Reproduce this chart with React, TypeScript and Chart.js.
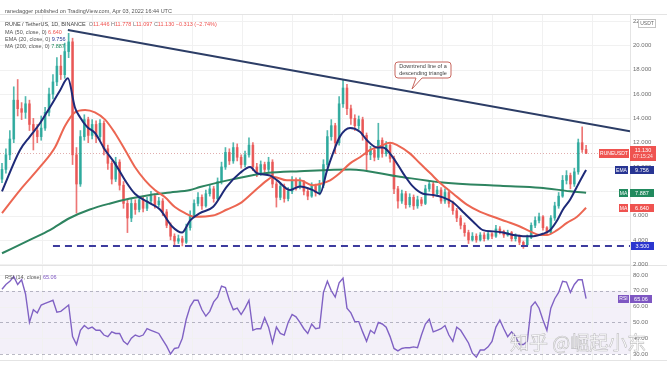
import React, { useEffect, useRef } from "react";
import { Chart, registerables } from "chart.js";

Chart.register(...registerables);

// ---------- DATA ----------
const opens = [
  9.0, 9.8, 11.0, 12.3, 15.5, 14.8, 14.5, 15.2, 13.5, 13.0,
  12.5, 13.2, 14.5, 16.0, 17.0, 18.3, 17.6, 19.5, 20.3, 11.0,
  8.6, 12.5, 13.9, 12.6, 13.5, 12.5, 13.6, 11.5, 10.3, 9.0,
  10.4, 8.5, 7.0, 5.8, 7.0, 6.5, 7.3, 6.6, 7.2, 7.6,
  6.9, 7.2, 6.3, 5.2, 4.3, 3.9, 4.1, 3.8, 5.0, 6.0,
  7.0, 7.5, 6.8, 7.8, 8.2, 7.4, 8.8, 10.0, 11.2, 10.5,
  11.6, 10.8, 10.2, 11.0, 11.8, 10.0, 9.5, 10.2, 9.8, 10.4,
  8.6, 7.5, 8.4, 7.4, 8.0, 8.9, 8.4, 8.8, 8.0, 7.6,
  8.4, 7.9, 8.5, 10.2, 12.5, 13.4, 12.0, 15.2, 16.5, 14.8,
  14.0, 13.4, 13.9, 12.6, 11.0, 11.4, 10.8, 12.2, 11.1, 11.8,
  10.7, 8.2, 7.2, 7.8, 6.9, 7.5, 6.8, 7.3, 7.0, 8.2,
  8.6, 7.8, 8.1, 7.2, 7.9, 7.0, 6.4, 5.8, 5.2, 4.6,
  4.0, 4.3, 4.0, 4.4, 4.1, 4.5, 4.3, 4.9, 4.7, 4.4,
  4.6, 4.1, 4.3, 3.8, 3.6, 4.2, 5.2, 5.6, 5.9, 5.0,
  4.6, 5.8, 6.8, 7.6, 8.9, 9.3, 8.6, 9.6, 12.0, 11.446,
];
const highs = [
  10.3, 11.5, 13.0, 16.6, 17.2, 15.3, 15.8, 15.5, 14.0, 13.5,
  14.2, 14.9, 16.5, 17.6, 19.0, 19.2, 20.2, 21.0, 20.6, 11.6,
  13.0, 14.3, 14.1, 13.9, 13.8, 13.9, 13.8, 11.8, 10.5, 10.8,
  10.6, 8.8, 7.3, 7.4, 7.3, 7.6, 7.5, 7.5, 8.0, 7.8,
  7.5, 7.4, 6.5, 5.4, 4.5, 4.4, 4.3, 5.3, 6.4, 7.3,
  7.9, 7.7, 8.1, 8.5, 8.4, 9.1, 10.4, 11.6, 11.5, 12.0,
  11.9, 11.0, 11.3, 12.4, 12.0, 10.3, 10.5, 10.4, 10.8, 10.6,
  8.8, 8.7, 8.6, 8.3, 9.2, 9.1, 9.1, 8.9, 8.2, 8.7,
  8.6, 8.9, 10.6, 13.0, 13.9, 13.6, 15.8, 17.2, 16.8, 15.1,
  14.3, 14.2, 14.1, 12.8, 11.7, 11.6, 13.6, 12.4, 12.1, 12.0,
  10.9, 8.4, 8.1, 8.0, 7.8, 7.7, 7.6, 7.5, 8.5, 8.9,
  8.8, 8.4, 8.3, 8.2, 8.1, 7.2, 6.6, 6.0, 5.4, 4.8,
  4.6, 4.5, 4.6, 4.6, 4.7, 4.6, 5.2, 5.1, 4.8, 4.8,
  4.7, 4.5, 4.4, 3.9, 4.4, 5.4, 5.9, 6.2, 6.0, 5.1,
  6.0, 7.1, 7.9, 9.3, 9.7, 9.5, 9.9, 12.3, 13.3, 11.778,
];
const lows = [
  8.7, 9.5, 10.6, 12.0, 14.2, 13.9, 14.0, 13.0, 11.4, 12.0,
  12.2, 13.0, 14.2, 15.6, 16.7, 17.2, 17.3, 19.0, 10.2, 6.2,
  8.4, 12.2, 12.0, 12.3, 12.0, 12.2, 11.0, 9.8, 8.6, 8.8,
  8.1, 6.6, 4.6, 5.5, 6.1, 6.3, 6.3, 6.4, 7.0, 6.6,
  6.7, 6.0, 5.0, 4.0, 3.5, 3.7, 3.5, 3.7, 4.8, 5.8,
  6.8, 6.5, 6.7, 7.6, 7.1, 7.3, 8.6, 9.8, 10.2, 10.3,
  10.5, 9.9, 10.0, 10.8, 9.7, 9.2, 9.3, 9.5, 9.6, 8.3,
  6.7, 7.3, 7.1, 7.2, 7.8, 8.1, 8.2, 7.7, 7.3, 7.5,
  7.6, 7.7, 8.3, 10.0, 12.2, 11.1, 11.8, 14.9, 14.3, 13.5,
  13.0, 13.1, 12.2, 9.7, 10.6, 10.5, 10.6, 10.8, 10.9, 10.4,
  7.8, 6.6, 7.0, 6.6, 6.7, 6.5, 6.6, 6.8, 6.9, 8.0,
  7.5, 7.6, 7.0, 7.0, 6.7, 6.1, 5.5, 4.9, 4.3, 3.7,
  3.9, 3.8, 3.9, 3.9, 4.0, 4.1, 4.2, 4.5, 4.2, 4.3,
  3.9, 3.9, 3.6, 3.3, 3.5, 4.1, 5.0, 5.4, 4.8, 4.4,
  4.5, 5.6, 6.6, 7.5, 8.6, 8.2, 8.4, 9.4, 11.2, 11.097,
];
const closes = [
  9.8, 11.0, 12.3, 15.5, 14.8, 14.5, 15.2, 13.5, 13.0, 12.5,
  13.2, 14.5, 16.0, 17.0, 18.3, 17.6, 19.5, 20.3, 11.0, 8.6,
  12.5, 13.9, 12.6, 13.5, 12.5, 13.6, 11.5, 10.3, 9.0, 10.4,
  8.5, 7.0, 5.8, 7.0, 6.5, 7.3, 6.6, 7.2, 7.6, 6.9,
  7.2, 6.3, 5.2, 4.3, 3.9, 4.1, 3.8, 5.0, 6.0, 7.0,
  7.5, 6.8, 7.8, 8.2, 7.4, 8.8, 10.0, 11.2, 10.5, 11.6,
  10.8, 10.2, 11.0, 11.8, 10.0, 9.5, 10.2, 9.8, 10.4, 8.6,
  7.5, 8.4, 7.4, 8.0, 8.9, 8.4, 8.8, 8.0, 7.6, 8.4,
  7.9, 8.5, 10.2, 12.5, 13.4, 12.0, 15.2, 16.5, 14.8, 14.0,
  13.4, 13.9, 12.6, 11.0, 11.4, 10.8, 12.2, 11.1, 11.8, 10.7,
  8.2, 7.2, 7.8, 6.9, 7.5, 6.8, 7.3, 7.0, 8.2, 8.6,
  7.8, 8.1, 7.2, 7.9, 7.0, 6.4, 5.8, 5.2, 4.6, 4.0,
  4.3, 4.0, 4.4, 4.1, 4.5, 4.3, 4.9, 4.7, 4.4, 4.6,
  4.1, 4.3, 3.8, 3.6, 4.2, 5.2, 5.6, 5.9, 5.0, 4.6,
  5.8, 6.8, 7.6, 8.9, 9.3, 8.6, 9.6, 12.0, 11.44, 11.13,
];

// moving averages as [candle index, value]
const ema20 = [
  [0, 8.0], [4.6, 11.4], [7.1, 12.5], [9.7, 13.6], [12.2, 14.9], [14.8, 16.3], [16.8, 17.3],
  [18.6, 14.9], [19.9, 14.1], [21.7, 13.3], [23.7, 12.8], [26.3, 11.4], [28.8, 10.3], [31.4, 8.9],
  [33.9, 7.8], [37.8, 7.0], [40.3, 6.5], [43.4, 5.1], [45.9, 4.6], [48, 5.6], [50.5, 6.2],
  [53.8, 6.7], [57.4, 8.4], [60.7, 9.5], [63.3, 10.0], [65, 9.5], [68.4, 9.3], [70.2, 8.9],
  [73.5, 8.1], [76, 8.4], [79.3, 8.1], [81.1, 7.8], [82.9, 9.7], [84.4, 11.1], [86.2, 12.5],
  [88.8, 13.2], [91.3, 12.9], [93.1, 12.2], [95.7, 11.6], [97.2, 11.6], [99.7, 10.8], [102.3, 9.5],
  [104.8, 8.4], [107.4, 7.8], [110, 7.7], [112.5, 7.5], [115, 7.1], [117.6, 6.3], [120.2, 5.5],
  [122.7, 4.8], [125.3, 4.7], [127.8, 4.6], [130.4, 4.4], [132.9, 4.3], [135.5, 4.3], [138, 4.5],
  [139.8, 4.8], [141.6, 5.6], [143.1, 6.5], [144.9, 7.3], [146.7, 8.4], [148.2, 9.3], [149, 9.756],
];
const ma50 = [
  [0, 6.2], [4.6, 8.1], [9.7, 10.0], [13.5, 11.6], [16.1, 13.4], [18.6, 14.5], [21.2, 14.7],
  [23.7, 14.5], [26.3, 13.9], [28.8, 12.8], [31.4, 11.4], [33.9, 10.0], [36.5, 8.9], [39, 8.1],
  [41.6, 7.5], [44.1, 6.7], [46.7, 6.2], [49.2, 5.9], [53.8, 6.0], [57.4, 6.5], [60.7, 7.0],
  [64, 7.9], [67.6, 8.9], [69.1, 9.2], [72.7, 8.9], [76, 8.9], [79.3, 8.5], [81.1, 8.6],
  [83.7, 8.9], [86.2, 9.5], [88.8, 10.3], [91.3, 10.8], [93.9, 11.4], [96.4, 11.7], [99, 12.0],
  [100.8, 11.8], [104.1, 11.1], [106.6, 10.3], [109.2, 9.5], [111.7, 8.7], [115.1, 7.8],
  [118.6, 6.9], [122, 6.3], [125.3, 5.9], [128.8, 5.5], [132.1, 5.1], [134.7, 4.7], [137.2, 4.4],
  [139, 4.4], [141.6, 4.8], [144.1, 5.4], [146.7, 5.9], [149, 6.64],
];
const ma200 = [
  [0, 2.9], [7.1, 4.0], [12.2, 4.8], [17.3, 5.8], [22.4, 6.5], [27.6, 7.0], [32.7, 7.4],
  [37.8, 7.7], [42.9, 7.9], [48, 8.1], [50.5, 8.35], [59, 9.0], [67.6, 9.5], [76, 9.65],
  [88.8, 9.8], [101.5, 9.2], [111.7, 8.75], [127.1, 8.45], [137.2, 8.3], [144.9, 8.0], [149, 7.887],
];
const rsi = [
  71, 74, 76, 79, 74, 77, 68, 50, 58, 56,
  61, 62, 63, 64, 56.5, 57, 59, 61, 41, 36,
  45, 48, 46, 47, 45, 45, 42, 41, 44, 43,
  43, 38, 36, 40, 42, 41, 42, 46, 45, 44,
  43, 39, 35, 30, 33.5, 34, 40, 52, 60, 64,
  64, 58, 54, 57, 63, 66, 73, 72, 64, 58,
  59, 55, 59, 64, 45, 46, 46, 53, 47, 37,
  47, 43, 42, 50, 55, 53.5, 50, 46, 43, 49,
  46, 46.5, 69, 76, 70, 66, 75, 78, 59, 56,
  50.5, 50.5, 44, 38, 45, 43, 50, 49, 47, 41,
  33.5, 32, 33.5, 34, 34, 34.5, 34, 42, 49, 52,
  44, 45, 46, 48, 42, 38, 47, 45, 41, 37,
  30.5, 28, 32.5, 32.5, 34.5, 38, 47, 51.5, 46, 41,
  44, 41, 36, 36, 38, 60, 63, 59, 51.5, 45,
  59, 65, 69, 76, 75.5, 69, 74, 77, 77, 65.06,
];
const trendIdx = [16.8, 160.2];
const trendVal = [21.28, 12.95];
const supportIdx = [13, 160.2];
const supportLevel = 3.5;
const priceTicks = [2, 4, 6, 8, 10, 12, 14, 16, 18, 20, 22];
const rsiTicks = [80, 70, 60, 50, 40, 30];
const rsiDashed = [70, 50, 30];
const gridIdx = [10.2, 22.95, 35.7, 48.45, 61.2, 73.95, 86.7, 99.45, 112.2, 124.95, 137.7, 150.45];
const lastPrice = 11.13;
const emaLast = 9.756;
const ma200Last = 7.887;
const ma50Last = 6.64;
const rsiLast = 65.06;

// ---------- STYLE ----------
const X_MIN = -0.51, X_MAX = 160.2;
const PRICE_MIN = 1.85, PRICE_MAX = 22.51;
const RSI_MIN = 26.2, RSI_MAX = 85.7;
const UP = "rgba(38,166,154,0.8)", DOWN = "rgba(232,80,78,0.78)";
const RED = "#ef5350", NAVY = "#283593", GREEN = "#218a5e", BLUE = "#2b36cf", PURPLE = "#7e57c2";
const FONT = '"Liberation Sans", "DejaVu Sans", Arial, sans-serif';
const font = (px: number) => `${px}px ${FONT}`;

function line(ctx: CanvasRenderingContext2D, x1: number, y1: number, x2: number, y2: number) {
  ctx.beginPath(); ctx.moveTo(x1, y1); ctx.lineTo(x2, y2); ctx.stroke();
}
function box(ctx: CanvasRenderingContext2D, x: number, w: number, yc: number, h: number, bg: string, text: string, px = 5) {
  ctx.fillStyle = bg;
  ctx.fillRect(x, Math.round(yc - h / 2), w, h);
  ctx.fillStyle = "#fff";
  ctx.font = font(px);
  ctx.textAlign = "center"; ctx.textBaseline = "middle";
  ctx.fillText(text, x + w / 2, yc + 0.5);
}
function segs(ctx: CanvasRenderingContext2D, x: number, y: number, parts: [string, string][], px = 5.5) {
  ctx.font = font(px); ctx.textAlign = "left"; ctx.textBaseline = "middle";
  let cx = x;
  for (const [t, c] of parts) { ctx.fillStyle = c; ctx.fillText(t, cx, y); cx += ctx.measureText(t).width; }
}

const pricePlugin = {
  id: "pricePlugin",
  beforeDatasetsDraw(chart: any) {
    const { ctx, chartArea: a, scales } = chart;
    const x = scales.x, y = scales.y;
    ctx.save();
    ctx.strokeStyle = "#f1f1f1"; ctx.lineWidth = 1;
    for (const v of priceTicks) {
      const py = Math.round(y.getPixelForValue(v)) + 0.5;
      if (py > a.top && py < a.bottom) line(ctx, a.left, py, a.right, py);
    }
    for (const g of gridIdx) {
      const px = Math.round(x.getPixelForValue(g)) + 0.5;
      line(ctx, px, a.top, px, a.bottom);
    }
    ctx.setLineDash([1, 2]);
    ctx.strokeStyle = "rgba(200,110,110,0.55)";
    const lp = Math.round(y.getPixelForValue(lastPrice)) + 0.5;
    line(ctx, a.left, lp, a.right, lp);
    ctx.restore();
  },
  afterDatasetsDraw(chart: any) {
    const { ctx, chartArea: a, scales } = chart;
    const y = scales.y;
    ctx.save();
    ctx.strokeStyle = "#e4e4e4"; ctx.lineWidth = 1;
    line(ctx, 0, a.top - 0.5, 667, a.top - 0.5);
    line(ctx, a.right + 0.5, a.top, a.right + 0.5, a.bottom);
    line(ctx, 0, a.bottom - 0.5, 667, a.bottom - 0.5);

    // axis labels
    ctx.font = font(6); ctx.fillStyle = "#6e6e6e"; ctx.textAlign = "left"; ctx.textBaseline = "middle";
    for (const v of priceTicks) {
      const py = y.getPixelForValue(v);
      ctx.fillText(v.toFixed(3), a.right + 3, py);
    }

    // header
    segs(ctx, 5, 11, [["ranedagger published on TradingView.com, Apr 03, 2022 16:44 UTC", "#555"]]);
    segs(ctx, 5, 24, [
      ["RUNE / TetherUS, 1D, BINANCE  ", "#444"],
      ["O", "#777"], ["11.446 ", RED], ["H", "#777"], ["11.778 ", RED],
      ["L", "#777"], ["11.097 ", RED], ["C", "#777"], ["11.130 ", RED], ["\u22120.313 (\u22122.74%)", RED],
    ]);
    segs(ctx, 5, 32, [["MA (50, close, 0) ", "#555"], [ma50Last.toFixed(3), RED]]);
    segs(ctx, 5, 39, [["EMA (20, close, 0) ", "#555"], [emaLast.toFixed(3), NAVY]]);
    segs(ctx, 5, 46, [["MA (200, close, 0) ", "#555"], [ma200Last.toFixed(3), GREEN]]);

    // callout
    const L = 395, T = 62, R = 451, B = 78, r = 3;
    ctx.beginPath();
    ctx.moveTo(L + r, T); ctx.lineTo(R - r, T); ctx.quadraticCurveTo(R, T, R, T + r);
    ctx.lineTo(R, B - r); ctx.quadraticCurveTo(R, B, R - r, B);
    ctx.lineTo(422, B); ctx.lineTo(412, 89); ctx.lineTo(416, B);
    ctx.lineTo(L + r, B); ctx.quadraticCurveTo(L, B, L, B - r);
    ctx.lineTo(L, T + r); ctx.quadraticCurveTo(L, T, L + r, T); ctx.closePath();
    ctx.fillStyle = "#fff"; ctx.fill();
    ctx.strokeStyle = "#c7675f"; ctx.lineWidth = 1; ctx.stroke();
    ctx.fillStyle = "#444"; ctx.font = font(5.5); ctx.textAlign = "center"; ctx.textBaseline = "middle";
    ctx.fillText("Downtrend line of a", (L + R) / 2, 66.5);
    ctx.fillText("descending triangle", (L + R) / 2, 73.5);

    // badges
    const pY = y.getPixelForValue(lastPrice);
    box(ctx, 599, 30, pY, 9, RED, "RUNEUSDT");
    ctx.fillStyle = RED; ctx.fillRect(630, Math.round(pY - 7.5), 26, 15);
    ctx.fillStyle = "#fff"; ctx.font = font(5.5); ctx.textAlign = "center"; ctx.textBaseline = "middle";
    ctx.fillText(lastPrice.toFixed(3), 643, pY - 3);
    ctx.fillStyle = "rgba(255,255,255,0.85)"; ctx.font = font(5);
    ctx.fillText("07:15:24", 643, pY + 3.5);

    const eY = y.getPixelForValue(emaLast);
    box(ctx, 615, 13, eY, 8, NAVY, "EMA");
    box(ctx, 630, 24, eY, 8, NAVY, emaLast.toFixed(3), 5.5);
    const gY = y.getPixelForValue(ma200Last);
    box(ctx, 619, 9, gY, 8, GREEN, "MA");
    box(ctx, 630, 24, gY, 8, GREEN, ma200Last.toFixed(3), 5.5);
    const rY = y.getPixelForValue(ma50Last);
    box(ctx, 619, 9, rY, 8, RED, "MA");
    box(ctx, 630, 24, rY, 8, RED, ma50Last.toFixed(3), 5.5);
    const sY = y.getPixelForValue(supportLevel);
    box(ctx, 631, 23, sY, 8, BLUE, supportLevel.toFixed(3), 5.5);

    // USDT
    ctx.fillStyle = "#fff"; ctx.fillRect(638, 19, 18, 9);
    ctx.strokeStyle = "#c4c4c4"; ctx.strokeRect(638.5, 19.5, 17, 8);
    ctx.fillStyle = "#666"; ctx.font = font(5); ctx.textAlign = "center";
    ctx.fillText("USDT", 647, 24);
    ctx.restore();
  },
};

const rsiPlugin = {
  id: "rsiPlugin",
  beforeDatasetsDraw(chart: any) {
    const { ctx, chartArea: a, scales } = chart;
    const x = scales.x, y = scales.y;
    ctx.save();
    const y70 = y.getPixelForValue(70), y30 = y.getPixelForValue(30);
    ctx.fillStyle = "rgba(126,87,194,0.09)";
    ctx.fillRect(a.left, y70, a.right - a.left, y30 - y70);
    ctx.strokeStyle = "#f1f1f1"; ctx.lineWidth = 1;
    for (const g of gridIdx) {
      const px = Math.round(x.getPixelForValue(g)) + 0.5;
      line(ctx, px, a.top, px, a.bottom);
    }
    for (const v of [80, 60, 40]) {
      const py = Math.round(y.getPixelForValue(v)) + 0.5;
      line(ctx, a.left, py, a.right, py);
    }
    ctx.setLineDash([3, 3]);
    ctx.strokeStyle = "rgba(130,130,150,0.55)";
    for (const v of rsiDashed) {
      const py = Math.round(y.getPixelForValue(v)) + 0.5;
      line(ctx, a.left, py, a.right, py);
    }
    ctx.restore();
  },
  afterDatasetsDraw(chart: any) {
    const { ctx, chartArea: a, scales } = chart;
    const y = scales.y;
    ctx.save();
    ctx.strokeStyle = "#e4e4e4"; ctx.lineWidth = 1;
    line(ctx, a.right + 0.5, a.top, a.right + 0.5, a.bottom);
    line(ctx, 0, a.bottom + 0.5, 667, a.bottom + 0.5);
    ctx.font = font(6); ctx.fillStyle = "#6e6e6e"; ctx.textAlign = "left"; ctx.textBaseline = "middle";
    for (const v of rsiTicks) ctx.fillText(v.toFixed(2), a.right + 3, y.getPixelForValue(v));
    segs(ctx, 5, 11, [["RSI (14, close) ", "#555"], [rsiLast.toFixed(2), PURPLE]]);
    const rY = y.getPixelForValue(rsiLast);
    box(ctx, 618, 11, rY, 8, PURPLE, "RSI");
    box(ctx, 630, 22, rY, 8, PURPLE, rsiLast.toFixed(2), 5.5);

    // watermark
    ctx.font = '19px "Noto Sans CJK SC", sans-serif';
    ctx.textAlign = "left"; ctx.textBaseline = "alphabetic";
    ctx.fillStyle = "rgba(255,255,255,0.85)";
    ctx.fillText("知乎 @崛起小东", 510, 84);
    ctx.strokeStyle = "rgba(120,120,120,0.45)"; ctx.lineWidth = 0.6;
    ctx.strokeText("知乎 @崛起小东", 510, 84);
    ctx.restore();
  },
};

const candleColor = (c: any) => (closes[c.dataIndex] >= opens[c.dataIndex] ? UP : DOWN);
const toPts = (arr: number[][]) => arr.map(([x, y]) => ({ x, y }));

export default function App() {
  const priceRef = useRef<HTMLCanvasElement>(null);
  const rsiRef = useRef<HTMLCanvasElement>(null);

  useEffect(() => {
    const idx = closes.map((_, i) => i);
    const common = {
      responsive: false,
      animation: false,
      devicePixelRatio: 1,
      events: [],
      plugins: { legend: { display: false }, tooltip: { enabled: false } },
    };
    const price = new Chart(priceRef.current!, {
      type: "bar",
      data: {
        datasets: [
          { type: "bar", data: idx.map((i) => ({ x: i, y: [lows[i], highs[i]] })), backgroundColor: candleColor, barThickness: 1, grouped: false, order: 10 } as any,
          { type: "bar", data: idx.map((i) => ({ x: i, y: [opens[i], closes[i]] })), backgroundColor: candleColor, barThickness: 2, minBarLength: 1, grouped: false, order: 9 } as any,
          { type: "line", data: toPts(ma200), borderColor: "#2e8460", borderWidth: 2, pointRadius: 0, cubicInterpolationMode: "monotone", order: 4 } as any,
          { type: "line", data: toPts(ma50), borderColor: "#ec6652", borderWidth: 2, pointRadius: 0, cubicInterpolationMode: "monotone", order: 3 } as any,
          { type: "line", data: toPts(ema20), borderColor: "#1e2a78", borderWidth: 2, pointRadius: 0, cubicInterpolationMode: "monotone", order: 2 } as any,
          { type: "line", data: trendIdx.map((x, i) => ({ x, y: trendVal[i] })), borderColor: "#2c3d66", borderWidth: 2, pointRadius: 0, order: 1 } as any,
          { type: "line", data: supportIdx.map((x) => ({ x, y: supportLevel })), borderColor: "#3d3c9e", borderWidth: 2, borderDash: [7, 5], pointRadius: 0, order: 1 } as any,
        ],
      },
      options: {
        ...common,
        layout: { padding: { top: 15, right: 37, bottom: 0, left: 0 } },
        scales: {
          x: { type: "linear", min: X_MIN, max: X_MAX, display: false, offset: false },
          y: { type: "linear", min: PRICE_MIN, max: PRICE_MAX, display: false },
        },
      } as any,
      plugins: [pricePlugin],
    });
    const rsiChart = new Chart(rsiRef.current!, {
      type: "line",
      data: {
        datasets: [
          { data: rsi.map((v, i) => ({ x: i, y: v })), borderColor: "#8062c4", borderWidth: 1.4, pointRadius: 0, tension: 0 },
        ],
      },
      options: {
        ...common,
        layout: { padding: { top: 0, right: 37, bottom: 8, left: 0 } },
        scales: {
          x: { type: "linear", min: X_MIN, max: X_MAX, display: false },
          y: { type: "linear", min: RSI_MIN, max: RSI_MAX, display: false },
        },
      } as any,
      plugins: [rsiPlugin],
    });
    return () => { price.destroy(); rsiChart.destroy(); };
  }, []);

  return (
    <div style={{ position: "fixed", left: 0, top: 0, width: 667, height: 368, background: "#fff" }}>
      <canvas ref={priceRef} width={667} height={266} style={{ position: "absolute", left: 0, top: 0, width: 667, height: 266 }} />
      <canvas ref={rsiRef} width={667} height={102} style={{ position: "absolute", left: 0, top: 266, width: 667, height: 102 }} />
    </div>
  );
}
